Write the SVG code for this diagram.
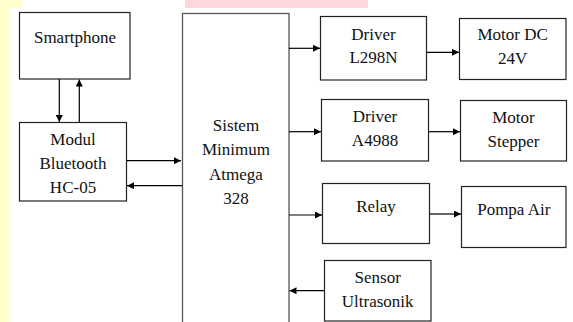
<svg xmlns="http://www.w3.org/2000/svg" width="573" height="322" viewBox="0 0 573 322">
  <defs>
    <marker id="ah" viewBox="0 0 10 10" refX="10" refY="5" markerWidth="7" markerHeight="7" markerUnits="userSpaceOnUse" orient="auto">
      <path d="M0,0 L10,5 L0,10 z" fill="#000"/>
    </marker>
  </defs>
  <rect x="0" y="0" width="573" height="322" fill="#fff"/>
  <rect x="0" y="0" width="9" height="322" fill="#FFFFCC"/>
  <rect x="0" y="0" width="22" height="8" fill="#FFFFCC"/>
  <rect x="185" y="0" width="183" height="8" fill="#FFD6DA"/>

  <g fill="#fff" stroke="#222" stroke-width="1.2">
    <g id="smartphone"><rect x="19.5" y="12.5" width="110.5" height="66.5"/></g>
    <g id="bluetooth"><rect x="19.5" y="122.5" width="107" height="78.5"/></g>
    <g id="sistem"><rect x="182.5" y="13.5" width="106.5" height="320" stroke="#555" stroke-width="1.3"/></g>
    <g id="driver-l298n"><rect x="320.5" y="16.5" width="106" height="63.5"/></g>
    <g id="motor-dc"><rect x="459.5" y="18.5" width="106.5" height="61"/></g>
    <g id="driver-a4988"><rect x="321.5" y="99.5" width="107" height="61.5"/></g>
    <g id="motor-stepper"><rect x="460.5" y="100.5" width="106" height="60.5"/></g>
    <g id="relay"><rect x="322.5" y="183.5" width="107" height="60"/></g>
    <g id="pompa-air"><rect x="461.5" y="186.5" width="104.5" height="61"/></g>
    <g id="sensor-ultrasonik"><rect x="324.5" y="260.5" width="106.5" height="60.5"/></g>
  </g>

  <g id="labels" font-family="'Liberation Serif', serif" font-size="17" fill="#111" text-anchor="middle">
    <text x="75" y="43">Smartphone</text>
    <text x="73" y="145">Modul</text>
    <text x="73" y="168.5">Bluetooth</text>
    <text x="73" y="192.5">HC-05</text>
    <text x="236" y="131">Sistem</text>
    <text x="236" y="155">Minimum</text>
    <text x="236" y="180">Atmega</text>
    <text x="236" y="203.5">328</text>
    <text x="373.5" y="39.5">Driver</text>
    <text x="373.5" y="63">L298N</text>
    <text x="512.7" y="40">Motor DC</text>
    <text x="512.7" y="64">24V</text>
    <text x="375" y="121.7">Driver</text>
    <text x="375" y="146">A4988</text>
    <text x="513.5" y="123.3">Motor</text>
    <text x="513.5" y="146.7">Stepper</text>
    <text x="376" y="211.7">Relay</text>
    <text x="513.8" y="215">Pompa Air</text>
    <text x="377.7" y="282.7">Sensor</text>
    <text x="377.7" y="306.7">Ultrasonik</text>
  </g>

  <g id="connectors" stroke="#000" stroke-width="1.2" fill="none" marker-end="url(#ah)">
    <line x1="59.3" y1="79" x2="59.3" y2="122"/>
    <line x1="79.3" y1="122.5" x2="79.3" y2="79.5"/>
    <line x1="126.5" y1="160.7" x2="181" y2="160.7"/>
    <line x1="182" y1="185.7" x2="127" y2="185.7"/>
    <line x1="289" y1="48.3" x2="320" y2="48.3"/>
    <line x1="426.5" y1="52.3" x2="459" y2="52.3"/>
    <line x1="289" y1="131.7" x2="321" y2="131.7"/>
    <line x1="428.5" y1="131.7" x2="460" y2="131.7"/>
    <line x1="289" y1="215" x2="322" y2="215"/>
    <line x1="429.5" y1="214" x2="461" y2="214"/>
    <line x1="324.5" y1="290.7" x2="289.5" y2="290.7"/>
  </g>
</svg>
